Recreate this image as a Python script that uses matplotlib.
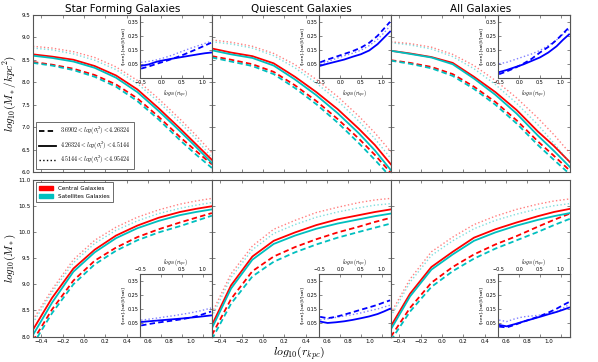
import matplotlib
matplotlib.use("Agg")
import matplotlib.pyplot as plt
from matplotlib.patches import Patch
from matplotlib.lines import Line2D

plt.rcParams["mathtext.fontset"] = "cm"

# radial grid, log10(r / kpc)
R = [-0.48, -0.3, -0.1, 0.1, 0.3, 0.5, 0.7, 0.9, 1.05, 1.2]

TITLES = ["Star Forming Galaxies", "Quiescent Galaxies", "All Galaxies"]
BIN_LABELS = [
    r"$3.6902 < log(\sigma_l^2) < 4.26324$",
    r"$4.26324 < log(\sigma_l^2) < 4.5144$",
    r"$4.5144 < log(\sigma_l^2) < 4.95424$",
]

# each block: [low bin (dashed), mid bin (solid), high bin (dotted)]
# --- surface density, log10(M*/kpc^2)
SF_SIGMA_CEN = [
    [8.45, 8.39, 8.30, 8.16, 7.95, 7.64, 7.23, 6.78, 6.47, 6.17],
    [8.62, 8.57, 8.50, 8.36, 8.15, 7.84, 7.42, 6.97, 6.62, 6.27],
    [8.80, 8.76, 8.68, 8.55, 8.34, 8.04, 7.63, 7.18, 6.82, 6.43],
]
SF_SIGMA_SAT = [
    [8.43, 8.37, 8.27, 8.12, 7.90, 7.58, 7.17, 6.71, 6.39, 6.09],
    [8.59, 8.54, 8.46, 8.32, 8.10, 7.78, 7.36, 6.91, 6.56, 6.20],
    [8.76, 8.72, 8.63, 8.49, 8.28, 7.97, 7.56, 7.10, 6.74, 6.32],
]
Q_SIGMA_CEN = [
    [8.58, 8.50, 8.40, 8.23, 7.93, 7.58, 7.18, 6.74, 6.38, 5.98],
    [8.75, 8.66, 8.58, 8.42, 8.12, 7.78, 7.40, 6.96, 6.60, 6.17],
    [8.94, 8.89, 8.80, 8.64, 8.39, 8.06, 7.68, 7.24, 6.87, 6.45],
]
Q_SIGMA_SAT = [
    [8.55, 8.46, 8.36, 8.18, 7.87, 7.51, 7.10, 6.64, 6.27, 5.88],
    [8.71, 8.62, 8.54, 8.37, 8.06, 7.71, 7.31, 6.86, 6.48, 6.04],
    [8.90, 8.85, 8.76, 8.59, 8.32, 7.98, 7.59, 7.13, 6.74, 6.30],
]
ALL_SIGMA_CEN = [
    [8.49, 8.43, 8.34, 8.18, 7.90, 7.56, 7.15, 6.68, 6.36, 6.03],
    [8.70, 8.64, 8.56, 8.43, 8.12, 7.78, 7.38, 6.90, 6.58, 6.22],
    [8.90, 8.86, 8.78, 8.62, 8.37, 8.04, 7.65, 7.20, 6.83, 6.42],
]
ALL_SIGMA_SAT = [
    [8.48, 8.41, 8.31, 8.14, 7.85, 7.50, 7.08, 6.60, 6.27, 5.95],
    [8.70, 8.63, 8.55, 8.40, 8.08, 7.72, 7.30, 6.81, 6.47, 6.11],
    [8.88, 8.83, 8.74, 8.57, 8.30, 7.95, 7.53, 7.05, 6.64, 6.20],
]

# --- cumulative mass, log10(M*)
SF_MASS_CEN = [
    [7.92, 8.52, 9.07, 9.45, 9.70, 9.90, 10.05, 10.18, 10.27, 10.36],
    [8.13, 8.74, 9.30, 9.66, 9.93, 10.12, 10.27, 10.38, 10.44, 10.49],
    [8.32, 8.90, 9.47, 9.84, 10.09, 10.28, 10.42, 10.53, 10.59, 10.64],
]
SF_MASS_SAT = [
    [7.85, 8.45, 9.00, 9.38, 9.64, 9.84, 9.99, 10.11, 10.21, 10.31],
    [8.03, 8.65, 9.24, 9.61, 9.88, 10.07, 10.21, 10.32, 10.38, 10.43],
    [8.26, 8.85, 9.41, 9.78, 10.03, 10.21, 10.35, 10.45, 10.51, 10.56],
]
Q_MASS_CEN = [
    [8.03, 8.72, 9.25, 9.53, 9.71, 9.86, 9.99, 10.10, 10.19, 10.27],
    [8.22, 8.98, 9.53, 9.83, 9.99, 10.13, 10.24, 10.32, 10.38, 10.43],
    [8.45, 9.20, 9.73, 10.05, 10.22, 10.37, 10.47, 10.56, 10.61, 10.64],
]
Q_MASS_SAT = [
    [7.95, 8.63, 9.15, 9.43, 9.61, 9.76, 9.89, 10.00, 10.08, 10.16],
    [8.16, 8.92, 9.47, 9.77, 9.93, 10.06, 10.16, 10.24, 10.30, 10.35],
    [8.38, 9.13, 9.66, 9.97, 10.14, 10.28, 10.38, 10.46, 10.51, 10.54],
]
ALL_MASS_CEN = [
    [8.00, 8.55, 9.03, 9.33, 9.57, 9.76, 9.92, 10.10, 10.23, 10.35],
    [8.20, 8.82, 9.33, 9.62, 9.89, 10.05, 10.18, 10.30, 10.38, 10.44],
    [8.45, 9.10, 9.62, 9.90, 10.14, 10.30, 10.43, 10.53, 10.59, 10.63],
]
ALL_MASS_SAT = [
    [7.93, 8.48, 8.95, 9.25, 9.49, 9.68, 9.84, 10.00, 10.13, 10.25],
    [8.14, 8.77, 9.28, 9.57, 9.83, 9.99, 10.12, 10.23, 10.30, 10.36],
    [8.39, 9.04, 9.55, 9.83, 10.06, 10.22, 10.34, 10.44, 10.50, 10.54],
]

# --- relative difference ([cen]-[sat])/[sat], shown in the insets
SF_SIGMA_DIFF = [
    [0.015, 0.030, 0.050, 0.068, 0.088, 0.110, 0.135, 0.160, 0.180, 0.200],
    [0.035, 0.045, 0.065, 0.077, 0.088, 0.098, 0.108, 0.118, 0.125, 0.130],
    [0.060, 0.067, 0.078, 0.095, 0.115, 0.138, 0.160, 0.180, 0.195, 0.210],
]
Q_SIGMA_DIFF = [
    [0.060, 0.080, 0.100, 0.120, 0.140, 0.165, 0.200, 0.250, 0.300, 0.350],
    [0.035, 0.050, 0.065, 0.080, 0.100, 0.118, 0.145, 0.190, 0.235, 0.280],
    [0.045, 0.065, 0.087, 0.107, 0.125, 0.147, 0.180, 0.225, 0.270, 0.320],
]
ALL_SIGMA_DIFF = [
    [-0.025, -0.005, 0.020, 0.050, 0.085, 0.130, 0.170, 0.220, 0.265, 0.310],
    [-0.010, 0.005, 0.025, 0.045, 0.070, 0.095, 0.130, 0.175, 0.220, 0.260],
    [0.050, 0.060, 0.080, 0.100, 0.120, 0.145, 0.180, 0.220, 0.260, 0.295],
]
SF_MASS_DIFF = [
    [0.030, 0.040, 0.050, 0.058, 0.066, 0.075, 0.086, 0.100, 0.115, 0.130],
    [0.055, 0.060, 0.065, 0.070, 0.075, 0.080, 0.086, 0.092, 0.097, 0.102],
    [0.068, 0.075, 0.083, 0.092, 0.100, 0.110, 0.120, 0.132, 0.143, 0.155],
]
Q_MASS_DIFF = [
    [0.092, 0.082, 0.092, 0.108, 0.125, 0.143, 0.160, 0.178, 0.195, 0.210],
    [0.058, 0.048, 0.053, 0.060, 0.070, 0.082, 0.095, 0.112, 0.130, 0.150],
    [0.070, 0.078, 0.088, 0.098, 0.108, 0.120, 0.135, 0.148, 0.162, 0.175],
]
ALL_MASS_DIFF = [
    [0.022, 0.016, 0.035, 0.057, 0.077, 0.097, 0.122, 0.150, 0.175, 0.198],
    [0.034, 0.024, 0.040, 0.058, 0.075, 0.092, 0.110, 0.127, 0.142, 0.158],
    [0.069, 0.058, 0.078, 0.092, 0.098, 0.104, 0.115, 0.128, 0.152, 0.180],
]

ROW_CEN = [[SF_SIGMA_CEN, Q_SIGMA_CEN, ALL_SIGMA_CEN],
           [SF_MASS_CEN, Q_MASS_CEN, ALL_MASS_CEN]]
ROW_SAT = [[SF_SIGMA_SAT, Q_SIGMA_SAT, ALL_SIGMA_SAT],
           [SF_MASS_SAT, Q_MASS_SAT, ALL_MASS_SAT]]
ROW_DIFF = [[SF_SIGMA_DIFF, Q_SIGMA_DIFF, ALL_SIGMA_DIFF],
            [SF_MASS_DIFF, Q_MASS_DIFF, ALL_MASS_DIFF]]

STYLES = ["--", "-", ":"]
WIDTHS = [1.3, 1.3, 1.0]
ALPHAS = [1.0, 1.0, 0.5]
DASHES = (3.0, 1.8)
CEN_COLOR = "#ff0000"
SAT_COLOR = "#00bfbf"
FRAME = "#555555"
XLABEL = r"$log_{10}(r_{kpc})$"


def line(ax, y, k, color):
    ln, = ax.plot(R, y, STYLES[k], color=color, lw=WIDTHS[k], alpha=ALPHAS[k])
    if STYLES[k] == "--":
        ln.set_dashes(DASHES)
    return ln


def style_axes(ax, size):
    for sp in ax.spines.values():
        sp.set_color(FRAME)
        sp.set_linewidth(0.8)
    ax.tick_params(direction="in", top=True, right=True, length=2.5,
                   width=0.5, color=FRAME, labelsize=size, pad=2)


def draw_inset(ax, diff, on_top):
    bounds = [0.6, 0.6, 0.4, 0.4] if on_top else [0.6, 0.0, 0.4, 0.4]
    ins = ax.inset_axes(bounds)
    for k in range(3):
        line(ins, diff[k], k, "#0000ff")
    ins.set_xlim(-0.5, 1.22)
    ins.set_ylim(-0.05, 0.4)
    ins.set_xticks([-0.5, 0.0, 0.5, 1.0])
    ins.set_yticks([0.05, 0.15, 0.25, 0.35])
    style_axes(ins, 3.5)
    ins.tick_params(pad=1.5)
    if not on_top:
        ins.tick_params(labeltop=True, labelbottom=False)
        ins.xaxis.set_label_position("top")
    ins.set_xlabel(XLABEL, fontsize=4, labelpad=2)
    ins.set_ylabel("([cen]-[sat])/[sat]", fontsize=3.2, labelpad=1.5)


fig, axes = plt.subplots(2, 3, figsize=(5.98, 3.62), dpi=100,
                         sharex=True, sharey="row")
fig.subplots_adjust(left=0.055, right=0.953, top=0.959, bottom=0.07,
                    wspace=0.0, hspace=0.048)

for i in range(2):
    for j in range(3):
        ax = axes[i, j]
        for k in range(3):
            line(ax, ROW_CEN[i][j][k], k, CEN_COLOR)
            line(ax, ROW_SAT[i][j][k], k, SAT_COLOR)
        style_axes(ax, 4)
        draw_inset(ax, ROW_DIFF[i][j], on_top=(i == 0))

axes[0, 0].set_xlim(-0.48, 1.2)

for j, title in enumerate(TITLES):
    axes[0, j].set_title(title, fontsize=7.5, pad=2)

axes[0, 0].set_ylim(6.0, 9.5)
axes[1, 0].set_ylim(8.0, 11.0)
axes[0, 0].set_yticks([6.0, 6.5, 7.0, 7.5, 8.0, 8.5, 9.0, 9.5])
axes[1, 0].set_yticks([8.0, 8.5, 9.0, 9.5, 10.0, 10.5, 11.0])
axes[1, 0].set_xticks([-0.4, -0.2, 0.0, 0.2, 0.4, 0.6, 0.8, 1.0])

axes[0, 0].set_ylabel(r"$log_{10}(M_*/kpc^2)$", fontsize=8)
axes[1, 0].set_ylabel(r"$log_{10}(M_*)$", fontsize=8)
for ax in axes[:, 0]:
    ax.yaxis.set_label_coords(-0.085, 0.5)
fig.text(0.5, 0.024, XLABEL, fontsize=8.5, ha="center", va="center")

bin_handles = []
for k in range(3):
    h = Line2D([], [], ls=STYLES[k], color="black", lw=WIDTHS[k])
    if STYLES[k] == "--":
        h.set_dashes(DASHES)
    bin_handles.append(h)
leg = axes[0, 0].legend(bin_handles, BIN_LABELS, loc="lower left",
                        fontsize=4.3, handlelength=2.8, borderpad=0.5,
                        labelspacing=0.35, fancybox=False, framealpha=1)
leg.get_frame().set_edgecolor(FRAME)
leg.get_frame().set_linewidth(0.6)

pop_handles = [Patch(color=CEN_COLOR), Patch(color=SAT_COLOR)]
leg2 = axes[1, 0].legend(pop_handles, ["Central Galaxies", "Satellites Galaxies"],
                         loc="upper left", fontsize=4.1, handlelength=2.5,
                         borderpad=0.6, labelspacing=0.5, fancybox=False,
                         framealpha=1)
leg2.get_frame().set_edgecolor(FRAME)
leg2.get_frame().set_linewidth(0.6)

fig.savefig("out.png", dpi=100)
